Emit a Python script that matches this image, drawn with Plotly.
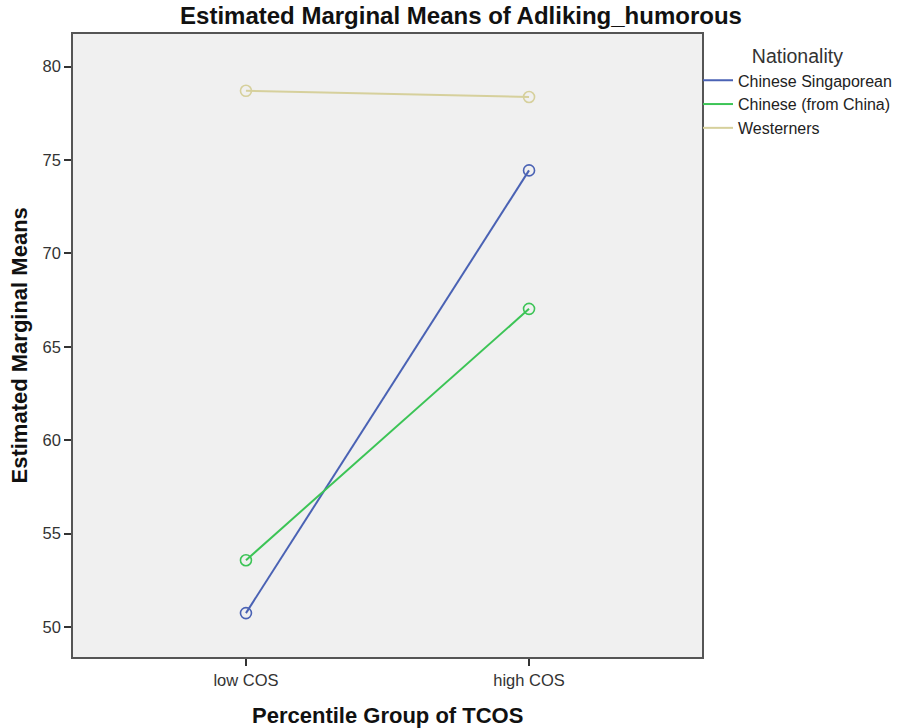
import plotly.graph_objects as go

categories = ["low COS", "high COS"]
series_names = ["Chinese Singaporean", "Chinese (from China)", "Westerners"]
chinese_singaporean = [50.75, 74.44]
chinese_china = [53.58, 67.03]
westerners = [78.70, 78.37]
y_ticks = [50, 55, 60, 65, 70, 75, 80]

colors = ["#4A62B4", "#3CC456", "#D6D09C"]
values = [chinese_singaporean, chinese_china, westerners]

FONT = "Liberation Sans, Arial, sans-serif"

fig = go.Figure()
for name, vals, col in zip(series_names, values, colors):
    fig.add_trace(go.Scatter(
        x=[0, 1], y=vals, mode="lines", name=name,
        line=dict(color=col, width=2),
    ))
for name, vals, col in zip(series_names, values, colors):
    fig.add_trace(go.Scatter(
        x=[0, 1], y=vals, mode="markers", name=name, showlegend=False,
        marker=dict(symbol="circle-open", size=11, color=col, line=dict(width=1.6, color=col)),
    ))

fig.update_layout(
    width=898, height=728,
    margin=dict(l=73, r=196, t=34, b=71, autoexpand=False),
    paper_bgcolor="white",
    plot_bgcolor="#F0F0F0",
    font=dict(family=FONT, color="#222"),
    title=dict(text="<b>Estimated Marginal Means of Adliking_humorous</b>",
               x=461 / 898, xref="container", xanchor="center",
               y=1 - 16 / 728, yref="container", yanchor="middle",
               font=dict(size=24, color="#111", family=FONT)),
    showlegend=True,
    legend=dict(
        x=1.0 - 4 / 629, xanchor="left", y=1.0 - 4 / 623, yanchor="top",
        bgcolor="rgba(0,0,0,0)",
        title=dict(text="Nationality", side="top center", font=dict(size=19.5, color="#333", family=FONT)),
        font=dict(size=16, color="#222", family=FONT),
        tracegroupgap=0, itemwidth=30,
    ),
    annotations=[
        dict(text="<b>Percentile Group of TCOS</b>", xref="paper", yref="paper",
             x=0.5, y=-(715 - 657) / 623, xanchor="center", yanchor="middle",
             showarrow=False, font=dict(size=22, color="#111", family=FONT)),
        dict(text="<b>Estimated Marginal Means</b>", xref="paper", yref="paper",
             x=-(73 - 19) / 629, y=0.5, xanchor="center", yanchor="middle", textangle=-90,
             showarrow=False, font=dict(size=22, color="#111", family=FONT)),
    ],
)

fig.update_xaxes(
    range=[-0.611, 1.611], tickmode="array", tickvals=[0, 1], ticktext=categories,
    ticks="outside", ticklen=7, tickcolor="#333", tickwidth=1.5,
    showgrid=False, zeroline=False, automargin=False,
    showline=True, linecolor="#555", linewidth=1.5, mirror=True,
    tickfont=dict(size=16.5, color="#333", family=FONT),
)
fig.update_yaxes(
    range=[48.4, 81.74], tickmode="array", tickvals=y_ticks,
    ticks="outside", ticklen=7, tickcolor="#333", tickwidth=1.5,
    showgrid=False, zeroline=False, automargin=False,
    showline=True, linecolor="#555", linewidth=1.5, mirror=True,
    tickfont=dict(size=16.5, color="#333", family=FONT),
)

fig.write_html("out.html")
